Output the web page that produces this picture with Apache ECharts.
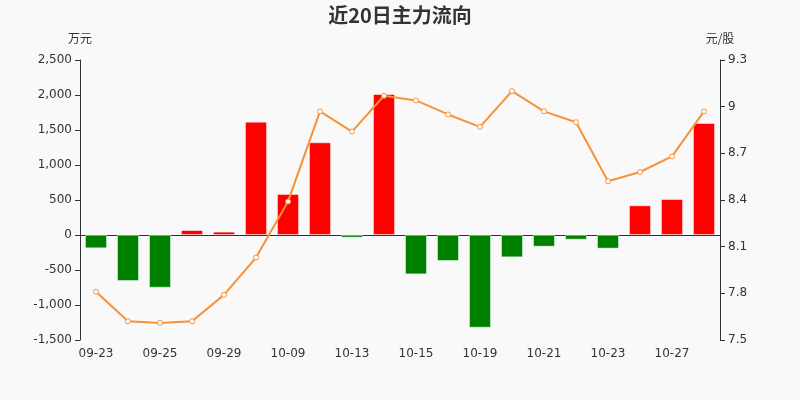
<!DOCTYPE html>
<html>
<head>
<meta charset="utf-8">
<script src="https://cdn.jsdelivr.net/npm/echarts@6/dist/echarts.min.js"></script>
<style>html,body{margin:0;padding:0;background:#f9f9f9;}#c{width:800px;height:400px;}</style>
</head>
<body>
<div id="c"></div>
<script>
const categories = ['09-23','09-24','09-25','09-28','09-29','09-30','10-09','10-12','10-13','10-14','10-15','10-16','10-19','10-20','10-21','10-22','10-23','10-26','10-27','10-28'];
const flowValues = [-190,-657,-752,71,48,1619,586,1324,-38,2014,-562,-371,-1324,-319,-167,-67,-195,424,514,1600];
const priceValues = [7.81,7.62,7.61,7.62,7.79,8.03,8.39,8.97,8.84,9.07,9.04,8.95,8.87,9.10,8.97,8.90,8.52,8.58,8.68,8.97];
const leftTicks = {min:-1500, max:2500, interval:500};
const rightTicks = {min:7.5, max:9.3, interval:0.3};

const chart = echarts.init(document.getElementById('c'));
const font = 'DejaVu Sans';
chart.setOption({
  backgroundColor:'#f9f9f9',
  animation:false,
  title:{text:'近20日主力流向', left:'center', top:0, textStyle:{fontSize:20, fontWeight:'bold', color:'#333', fontFamily:'Noto Sans CJK SC'}},
  grid:{left:80, right:80, top:60, bottom:60},
  xAxis:{type:'category', data:categories,
    axisLine:{lineStyle:{color:'#333'}},
    axisTick:{lineStyle:{color:'#333'}},
    axisLabel:{color:'#333', fontSize:12, fontFamily:font, interval:1}},
  yAxis:[
    {type:'value', name:'万元', min:leftTicks.min, max:leftTicks.max, interval:leftTicks.interval,
     nameTextStyle:{color:'#333', fontSize:12, fontFamily:'Noto Sans CJK SC', align:'center'}, nameGap:16,
     axisLine:{show:true, lineStyle:{color:'#333'}}, axisTick:{show:true},
     splitLine:{show:false},
     axisLabel:{color:'#333', fontSize:12, fontFamily:font, formatter:v=>v.toLocaleString('en-US')}},
    {type:'value', name:'元/股', min:rightTicks.min, max:rightTicks.max, interval:rightTicks.interval,
     nameTextStyle:{color:'#333', fontSize:12, fontFamily:'Noto Sans CJK SC', align:'center'}, nameGap:16,
     axisLine:{show:true, lineStyle:{color:'#333'}}, axisTick:{show:true},
     splitLine:{show:false},
     axisLabel:{color:'#333', fontSize:12, fontFamily:font, formatter:v=>String(+v.toFixed(1))}}
  ],
  series:[
    {type:'bar', data:flowValues.map(v=>({value:v, itemStyle:{color: v>=0?'#ff0000':'#008000'}})),
     barWidth:22, itemStyle:{borderColor:'rgba(255,255,255,0.45)', borderWidth:1}},
    {type:'line', yAxisIndex:1, data:priceValues, symbol:'circle', symbolSize:5,
     lineStyle:{color:'#f7923a', width:2}, itemStyle:{color:'#fff', borderColor:'#f7923a', borderWidth:1}}
  ]
});
</script>
</body>
</html>
